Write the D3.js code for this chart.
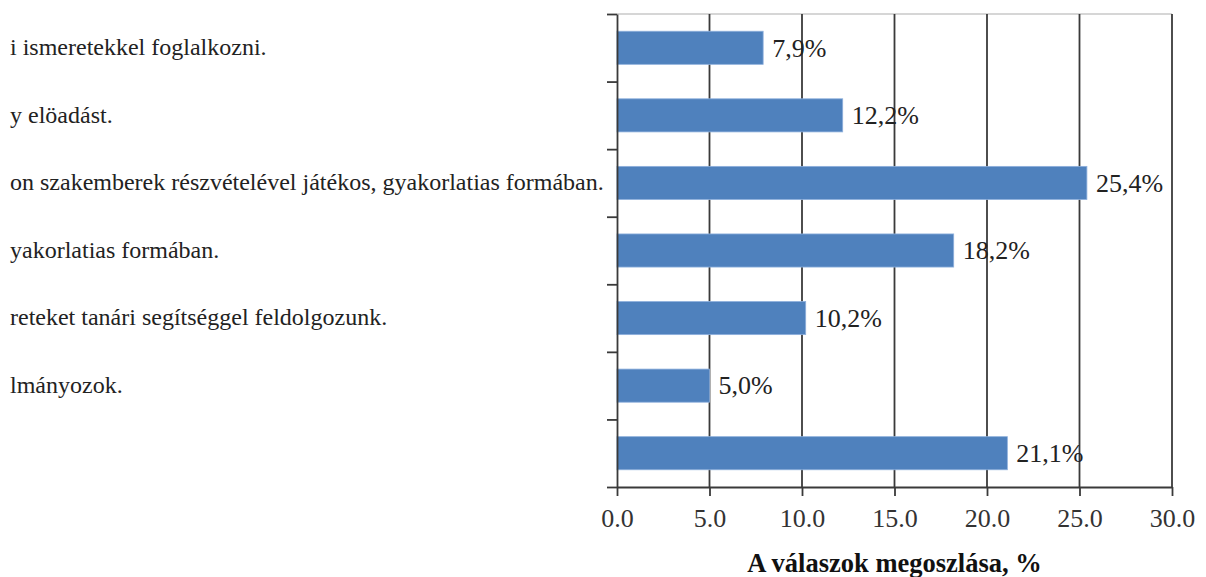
<!DOCTYPE html>
<html>
<head>
<meta charset="utf-8">
<script src="https://cdn.jsdelivr.net/npm/d3@7"></script>
<style>
  html, body { margin: 0; padding: 0; background: #fff; }
  svg { display: block; }
</style>
</head>
<body>
<svg id="chart" width="1206" height="577"></svg>
<script>
// Answer categories (only the visible tail of each answer fits on the page)
const categories = [
  "i ismeretekkel foglalkozni.",
  "y elöadást.",
  "on szakemberek részvételével játékos, gyakorlatias formában.",
  "yakorlatias formában.",
  "reteket tanári segítséggel feldolgozunk.",
  "lmányozok.",
  ""
];
// Share of answers, percent
const shares = [7.9, 12.2, 25.4, 18.2, 10.2, 5.0, 21.1];
// Axis ticks
const xTicks = [0, 5, 10, 15, 20, 25, 30];
const axisTitle = "A válaszok megoszlása, %";

const FONT = "Liberation Serif";
const svg = d3.select("#chart");
const plotLeft = 617, plotRight = 1172, plotTop = 14, plotBottom = 487;

const x = d3.scaleLinear().domain([0, 30]).range([plotLeft, plotRight]);
const idx = d3.range(categories.length);
const y = d3.scaleBand().domain(idx).range([plotTop, plotBottom])
  .paddingInner(0.51).paddingOuter(0.255);
// category boundaries for the tick marks on the vertical axis
const yEdge = d3.scaleLinear().domain([0, categories.length]).range([plotTop, plotBottom]);

// top frame line
svg.append("line")
  .attr("x1", plotLeft).attr("x2", plotRight).attr("y1", plotTop).attr("y2", plotTop)
  .attr("stroke", "#c8c8c8").attr("stroke-width", 1.5);

// vertical gridlines
svg.append("g").selectAll("line")
  .data(xTicks.filter(d => d > 0))
  .join("line")
  .attr("x1", d => x(d)).attr("x2", d => x(d))
  .attr("y1", plotTop).attr("y2", plotBottom)
  .attr("stroke", "#3a3a3a").attr("stroke-width", 1.8);

// bars
svg.append("g").selectAll("rect")
  .data(idx)
  .join("rect")
  .attr("x", x(0))
  .attr("y", i => y(i))
  .attr("width", i => x(shares[i]) - x(0))
  .attr("height", y.bandwidth())
  .attr("fill", "#4f81bd")
  .attr("stroke", "#8eb0dc").attr("stroke-width", 0.8);

// value labels
const fmt = d3.format(".1f");
svg.append("g").selectAll("text")
  .data(idx)
  .join("text")
  .attr("x", i => x(shares[i]) + 9)
  .attr("y", i => y(i) + y.bandwidth() / 2)
  .attr("dy", "0.34em")
  .attr("font-family", FONT)
  .attr("font-size", 26)
  .attr("fill", "#222")
  .text(i => fmt(shares[i]).replace(".", ",") + "%");

// x axis
const xAxis = svg.append("g")
  .attr("transform", `translate(0,${plotBottom})`)
  .call(d3.axisBottom(x).tickValues(xTicks).tickFormat(fmt).tickSize(9).tickSizeOuter(0));
xAxis.attr("font-family", FONT);
xAxis.select(".domain").attr("stroke", "#3a3a3a").attr("stroke-width", 1.8);
xAxis.selectAll(".tick line").attr("stroke", "#3a3a3a").attr("stroke-width", 1.8);
xAxis.selectAll(".tick text")
  .attr("y", 22).attr("dy", "0.71em")
  .attr("font-family", FONT)
  .attr("font-size", 26).attr("fill", "#333");

// y axis: ticks on category boundaries
const yAxis = svg.append("g")
  .attr("transform", `translate(${plotLeft},0)`)
  .call(d3.axisLeft(yEdge).tickValues(d3.range(categories.length + 1))
    .tickFormat("").tickSize(10).tickSizeOuter(0));
yAxis.select(".domain").attr("stroke", "#3a3a3a").attr("stroke-width", 1.8);
yAxis.selectAll(".tick line").attr("stroke", "#3a3a3a").attr("stroke-width", 1.8);

// category labels, left aligned
svg.append("g").selectAll("text")
  .data(idx)
  .join("text")
  .attr("x", 10)
  .attr("y", i => y(i) + y.bandwidth() / 2)
  .attr("dy", "0.3em")
  .attr("font-family", FONT)
  .attr("font-size", 24)
  .attr("fill", "#222")
  .text(i => categories[i]);

// axis title
svg.append("text")
  .attr("x", (plotLeft + plotRight) / 2)
  .attr("y", 572)
  .attr("text-anchor", "middle")
  .attr("font-family", FONT)
  .attr("font-size", 26.5)
  .attr("font-weight", "bold")
  .attr("fill", "#111")
  .text(axisTitle);
</script>
</body>
</html>
